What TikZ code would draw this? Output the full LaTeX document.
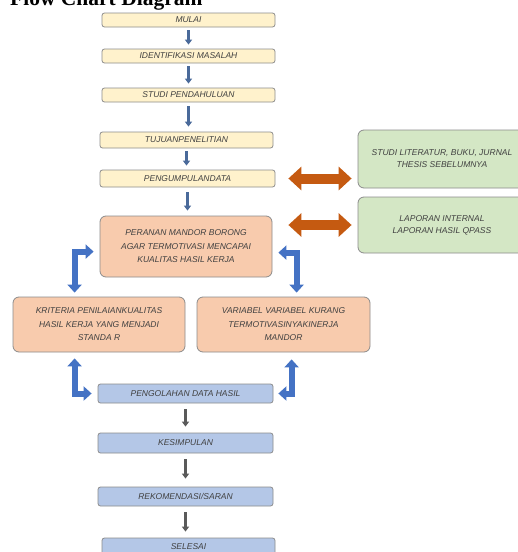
\documentclass[tikz,border=0pt]{standalone}
\usepackage{fontspec}
\setmainfont{Liberation Sans}
\newfontfamily\titlefont{Liberation Serif}
\usetikzlibrary{arrows.meta}
\definecolor{ylw}{HTML}{FFF2CC}
\definecolor{peach}{HTML}{F8CBAD}
\definecolor{grn}{HTML}{D4E7C5}
\definecolor{blu}{HTML}{B4C7E7}
\definecolor{bord}{HTML}{8C8C8C}
\definecolor{txt}{HTML}{404040}
\definecolor{orng}{HTML}{C55A11}
\definecolor{elb}{HTML}{4472C4}
\definecolor{topar}{HTML}{4A6A9A}
\definecolor{botar}{HTML}{5A5A5A}
\newcommand\boxfont{\fontsize{8.5}{13.5}\selectfont\itshape}
\newcommand\grnfont{\fontsize{8.5}{12}\selectfont\itshape}
\tikzset{
  fbox/.style={draw=bord, line width=0.8pt, rounded corners=2.5pt, inner sep=0pt,
    align=center, font=\boxfont, text=txt},
  ybox/.style={fbox, fill=ylw, minimum width=173pt, minimum height=14pt},
  bbox/.style={fbox, fill=blu, minimum width=175pt, minimum height=19pt},
  pbox/.style={fbox, fill=peach, rounded corners=6pt, minimum width=172pt, minimum height=55pt},
  gbox/.style={fbox, fill=grn, rounded corners=6pt, minimum width=168pt, font=\grnfont},
  downtop/.style={draw=topar, line width=2.6pt, -{Triangle[width=7pt,length=5pt]}},
  downbot/.style={draw=botar, line width=2.6pt, -{Triangle[width=7pt,length=5pt]}},
  dbl/.style={draw=orng, line width=10pt,
    {Triangle[width=23pt,length=13pt]}-{Triangle[width=23pt,length=13pt]}},
  elbow/.style={draw=elb, line width=6pt, line join=miter,
    {Triangle[width=14pt,length=8pt]}-{Triangle[width=14pt,length=8pt]}}
}
\begin{document}
\begin{tikzpicture}[x=1pt,y=-1pt]
\useasboundingbox[fill=white] (0,0) rectangle (518,552);
\clip (0,0) rectangle (518,552);
\node[anchor=base west, font=\titlefont\bfseries\fontsize{21.5}{24}\selectfont, inner sep=0pt] (title) at (10,5) {Flow Chart Diagram};

\node[ybox] (mulai) at (188.5,20) {MULAI};
\node[ybox] (ident) at (188.5,56) {IDENTIFIKASI MASALAH};
\node[ybox] (studi) at (188.5,95) {STUDI PENDAHULUAN};
\node[ybox, minimum height=16pt] (tujuan) at (186.5,140) {TUJUANPENELITIAN};
\node[ybox, minimum width=175pt, minimum height=17pt] (peng) at (187.5,178.5) {PENGUMPULANDATA};
\node[pbox, minimum height=61pt] (per) at (186,246.5) {PERANAN MANDOR BORONG\\AGAR TERMOTIVASI MENCAPAI\\KUALITAS HASIL KERJA};
\node[pbox] (krit) at (99,324.5) {KRITERIA PENILAIANKUALITAS\\HASIL KERJA YANG MENJADI\\STANDA R};
\node[pbox, minimum width=173pt] (var) at (283.5,324.5) {VARIABEL VARIABEL KURANG\\TERMOTIVASINYAKINERJA\\MANDOR};
\node[bbox] (po) at (185.5,393.5) {PENGOLAHAN DATA HASIL};
\node[bbox, minimum height=20pt] (kes) at (185.5,443) {KESIMPULAN};
\node[bbox] (rek) at (185.5,496.5) {REKOMENDASI/SARAN};
\node[bbox, minimum width=173pt, minimum height=22pt, text depth=0pt] (sel) at (188.5,549) {\raisebox{5pt}{SELESAI}};
\node[gbox, minimum height=58pt] (g1) at (442,159) {STUDI LITERATUR, BUKU, JURNAL\\THESIS SEBELUMNYA};
\node[gbox, minimum height=56pt] (g2) at (442,225) {LAPORAN INTERNAL\\LAPORAN HASIL QPASS};

% small down arrows
\draw[downtop] ([yshift=-3pt]mulai.south) -- ([yshift=4pt]mulai.south |- ident.north);
\draw[downtop] ([yshift=-3pt]ident.south) -- ([yshift=4pt]ident.south |- studi.north);
\draw[downtop] ([yshift=-4pt]studi.south) -- ([yshift=5pt]studi.south |- tujuan.north);
\draw[downtop] ([yshift=-3pt]tujuan.south) -- ([yshift=4pt]tujuan.south |- peng.north);
\draw[downtop] ([yshift=-5pt]peng.south) -- ([yshift=5pt]peng.south |- per.north);
\draw[downbot] ([yshift=-6pt]po.south) -- ([yshift=6pt]po.south |- kes.north);
\draw[downbot] ([yshift=-6pt]kes.south) -- ([yshift=8pt]kes.south |- rek.north);
\draw[downbot] ([yshift=-6pt]rek.south) -- ([yshift=6pt]rek.south |- sel.north);

% orange double arrows
\draw[dbl] ([xshift=13pt]peng.east) -- ([xshift=-6pt]peng.east -| g1.west);
\draw[dbl] ([xshift=16pt]per.east |- g2.west) -- ([xshift=-6pt]g2.west);

% blue elbow arrows
\draw[elbow] ([xshift=-6pt,yshift=-36pt]per.north west) -| ([xshift=62pt,yshift=4pt]krit.north west);
\draw[elbow] ([xshift=6pt,yshift=-37pt]per.north east) -| ([xshift=100pt,yshift=4pt]var.north west);
\draw[elbow] ([xshift=62pt,yshift=-6pt]krit.south west) |- ([xshift=-6pt]po.west);
\draw[elbow] ([xshift=95pt,yshift=-7pt]var.south west) |- ([xshift=5pt]po.east);
\end{tikzpicture}
\end{document}
